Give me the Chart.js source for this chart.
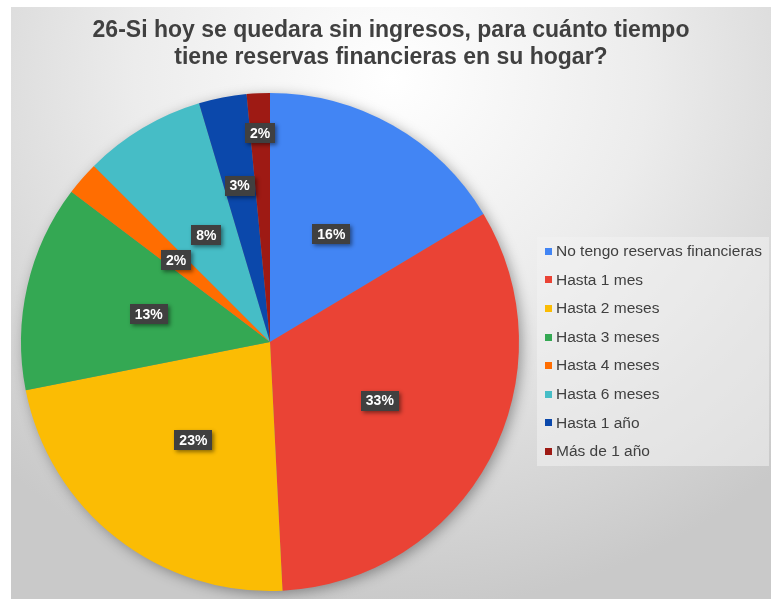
<!DOCTYPE html>
<html>
<head>
<meta charset="utf-8">
<script src="https://cdn.jsdelivr.net/npm/chart.js@4"></script>
<style>
    body { margin: 0; background: #ffffff; }
    #wrap {
        position: absolute; left: 11px; top: 7px; width: 760px; height: 592px;
        background: radial-gradient(ellipse 75% 90% at 50% 12%, #ffffff 0%, #ececec 45%, #c9c9c9 100%);
    }
    #chart { position: absolute; left: 0; top: 0; }
    #title {
        position: absolute; left: 0; top: 9px; width: 760px; text-align: center;
        font-family: "Liberation Sans", Arial, sans-serif; font-weight: bold; font-size: 23px;
        line-height: 27.3px; color: #404040;
    }
    #legend {
        position: absolute; left: 526px; top: 230px; width: 232px; height: 229px;
        background: rgba(242, 242, 242, 0.55);
        font-family: "Liberation Sans", Arial, sans-serif; font-size: 15.5px; color: #404040;
    }
    .item { display: flex; align-items: center; height: 28.6px; line-height: 28.6px; white-space: nowrap; }
    .swatch { width: 7px; height: 7px; margin-left: 8px; margin-right: 4px; }
</style>
</head>
<body>
<div id="wrap">
    <canvas id="chart" width="760" height="592"></canvas>
    <div id="title"></div>
    <div id="legend"></div>
</div>
<script>
// Data
const categories = ['No tengo reservas financieras', 'Hasta 1 mes', 'Hasta 2 meses', 'Hasta 3 meses',
    'Hasta 4 meses', 'Hasta 6 meses', 'Hasta 1 año', 'Más de 1 año'];
const shares = [16.4, 32.8, 22.7, 13.4, 2.2, 7.9, 3.1, 1.5];
const sliceColors = ['#4285f4', '#ea4335', '#fbbc04', '#34a853', '#ff6d01', '#46bdc6', '#0b48ab', '#9e1a14'];
const titleLines = ['26-Si hoy se quedara sin ingresos, para cuánto tiempo', 'tiene reservas financieras en su hogar?'];

// label distance from center, as a fraction of the radius (small slices pushed out)
const labelOffset = [0.5, 0.5, 0.5, 0.5, 0.5, 0.5, 0.64, 0.84];

const total = shares.reduce((a, b) => a + b, 0);

// Soft shadow behind the whole pie
const pieShadow = {
    id: 'pieShadow',
    beforeDatasetsDraw(chart) {
        const arc = chart.getDatasetMeta(0).data[0];
        if (!arc) return;
        const ctx = chart.ctx;
        ctx.save();
        ctx.shadowColor = 'rgba(0,0,0,0.38)';
        ctx.shadowBlur = 14;
        ctx.shadowOffsetX = 3;
        ctx.shadowOffsetY = 3;
        ctx.fillStyle = '#888';
        ctx.beginPath();
        ctx.arc(arc.x, arc.y, arc.outerRadius - 1, 0, Math.PI * 2);
        ctx.fill();
        ctx.restore();
    }
};

// Dark percentage boxes on the slices
const pctLabels = {
    id: 'pctLabels',
    afterDatasetsDraw(chart) {
        const ctx = chart.ctx;
        const arcs = chart.getDatasetMeta(0).data;
        ctx.save();
        ctx.font = 'bold 14px "Liberation Sans", Arial, sans-serif';
        ctx.textAlign = 'center';
        ctx.textBaseline = 'middle';
        arcs.forEach((arc, i) => {
            const mid = (arc.startAngle + arc.endAngle) / 2;
            const r = arc.outerRadius * labelOffset[i];
            const x = arc.x + Math.cos(mid) * r;
            const y = arc.y + Math.sin(mid) * r;
            const text = Math.round(shares[i] / total * 100) + '%';
            const w = ctx.measureText(text).width + 10;
            const h = 20;
            ctx.save();
            ctx.shadowColor = 'rgba(0,0,0,0.45)';
            ctx.shadowBlur = 4;
            ctx.shadowOffsetX = 2;
            ctx.shadowOffsetY = 2;
            ctx.fillStyle = '#404040';
            ctx.fillRect(Math.round(x - w / 2), Math.round(y - h / 2), Math.round(w), h);
            ctx.restore();
            ctx.fillStyle = '#ffffff';
            ctx.fillText(text, x, y + 1);
        });
        ctx.restore();
    }
};

const chart = new Chart(document.getElementById('chart'), {
    type: 'pie',
    data: {
        labels: categories,
        datasets: [{
            data: shares,
            backgroundColor: sliceColors,
            borderWidth: 0,
            hoverOffset: 0
        }]
    },
    options: {
        responsive: false,
        animation: false,
        events: [],
        layout: { padding: { left: 10, right: 252, top: 86, bottom: 8 } },
        plugins: {
            legend: { display: false },
            tooltip: { enabled: false },
            title: { display: false }
        }
    },
    plugins: [pieShadow, pctLabels]
});

// Title and legend (built from the same arrays)
document.getElementById('title').innerHTML = titleLines.join('<br>');

const legend = document.getElementById('legend');
let html = '';
categories.forEach((name, i) => {
    html += `<div class="item"><span class="swatch" style="background:${sliceColors[i]}"></span>${name}</div>`;
});
legend.innerHTML = html;
</script>
</body>
</html>
